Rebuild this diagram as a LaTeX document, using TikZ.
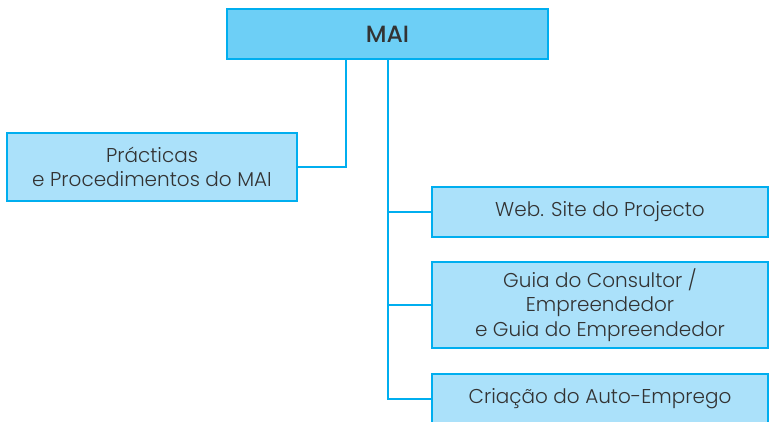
\documentclass[tikz,border=0pt]{standalone}
\usepackage{fontspec}
\setmainfont{Poppins}[FontFace={mb}{n}{Font=*-Medium},FontFace={l}{n}{Font=*-Light}]
\definecolor{maiblue}{HTML}{6DCFF6}
\definecolor{boxblue}{HTML}{ABE1FA}
\definecolor{lineblue}{HTML}{00AEEF}
\definecolor{txtgrey}{HTML}{333333}
\begin{document}
\begin{tikzpicture}[x=1pt,y=-1pt,
  topbox/.style={draw=lineblue,fill=maiblue,line width=2.6pt,minimum height=50pt,
    text=txtgrey,font=\fontsize{23.5}{28}\fontseries{mb}\selectfont},
  subbox/.style={draw=lineblue,fill=boxblue,line width=2.6pt,align=center,
    text=txtgrey,font=\fontsize{20}{24.5}\fontseries{l}\selectfont},
  link/.style={draw=lineblue,line width=2pt}]

\useasboundingbox (0,0) rectangle (769,421);

\node[topbox,minimum width=321pt] (mai) at (387.5,34) {MAI};

\node[subbox,minimum width=290pt,minimum height=68pt] (prac) at (152,167) {Prácticas\\e Procedimentos do MAI};

\node[subbox,minimum width=336pt,minimum height=50pt] (web) at (600,212) {Web. Site do Projecto};
\node[subbox,minimum width=336pt,minimum height=86pt] (guia) at (600,305) {Guia do Consultor /\\Empreendedor\\e Guia do Empreendedor};
\node[subbox,minimum width=336pt,minimum height=50pt] (auto) at (600,399) {Criação do Auto-Emprego};

\draw[link] ([xshift=-41.5pt]mai.south) |- (prac.east);
\draw[link] (mai.south) |- (web.west);
\draw[link] (mai.south) |- (guia.west);
\draw[link] (mai.south) |- (auto.west);

\end{tikzpicture}
\end{document}
